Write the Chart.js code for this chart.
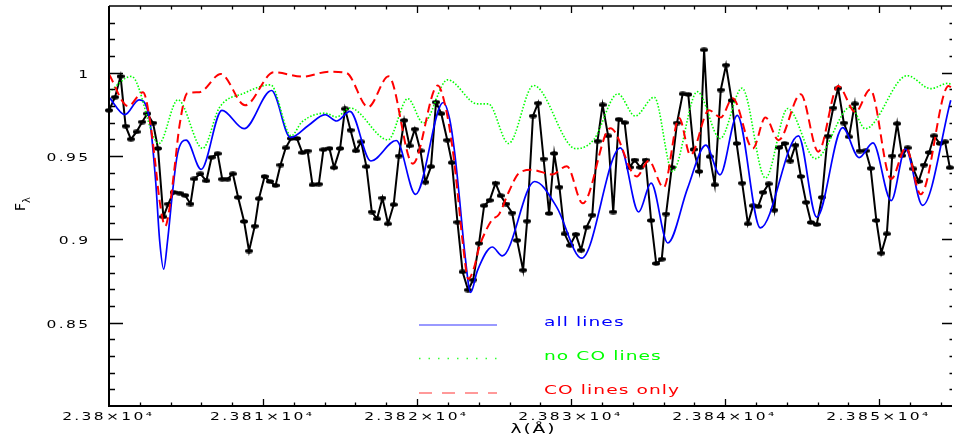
<!DOCTYPE html>
<html lang="en">
  <head>
    <meta charset="UTF-8" />
    <title>Spectrum around 2.38 micron</title>
    <script src="https://cdn.jsdelivr.net/npm/chart.js"></script>
    <style>
      body { margin: 0; background: #fff; }
      canvas { display: block; }
    </style>
  </head>
  <body>
    <canvas id="spectrumChart" width="958" height="439"></canvas>

    <script>
      // observed spectrum (black, with markers)
      const obsWave = [
        23800.00, 23800.39, 23800.75, 23801.08, 23801.42, 23801.79, 23802.15, 23802.49, 23802.86, 23803.18,
        23803.53, 23803.85, 23804.19, 23804.58, 23804.94, 23805.29, 23805.54, 23805.93, 23806.32, 23806.66,
        23807.05, 23807.35, 23807.69, 23808.04, 23808.38, 23808.77, 23809.09, 23809.46, 23809.73, 23810.10,
        23810.44, 23810.81, 23811.13, 23811.47, 23811.82, 23812.20, 23812.55, 23812.89, 23813.21, 23813.62,
        23813.92, 23814.31, 23814.61, 23815.00, 23815.32, 23815.68, 23816.03, 23816.37, 23816.71, 23817.06,
        23817.40, 23817.75, 23818.11, 23818.48, 23818.82, 23819.16, 23819.51, 23819.85, 23820.22, 23820.54,
        23820.90, 23821.23, 23821.57, 23821.96, 23822.26, 23822.62, 23822.95, 23823.31, 23823.64, 23824.02,
        23824.35, 23824.71, 23825.09, 23825.42, 23825.78, 23826.17, 23826.49, 23826.88, 23827.14, 23827.52,
        23827.85, 23828.21, 23828.57, 23828.90, 23829.24, 23829.57, 23829.93, 23830.30, 23830.64, 23831.00,
        23831.37, 23831.71, 23832.04, 23832.40, 23832.73, 23833.09, 23833.47, 23833.80, 23834.12, 23834.49,
        23834.83, 23835.19, 23835.52, 23835.88, 23836.16, 23836.53, 23836.87, 23837.24, 23837.60, 23837.95,
        23838.31, 23838.63, 23839.00, 23839.32, 23839.71, 23840.05, 23840.42, 23840.74, 23841.10, 23841.47,
        23841.81, 23842.14, 23842.46, 23842.82, 23843.19, 23843.51, 23843.85, 23844.22, 23844.56, 23844.91,
        23845.25, 23845.57, 23845.94, 23846.28, 23846.65, 23847.01, 23847.33, 23847.70, 23848.04, 23848.41,
        23848.73, 23849.12, 23849.44, 23849.81, 23850.13, 23850.49, 23850.84, 23851.16, 23851.48, 23851.84,
        23852.21, 23852.55, 23852.90, 23853.24, 23853.56, 23853.93, 23854.27, 23854.58
      ];
      const obsFlux = [
        0.9774, 0.9853, 0.9978, 0.9679, 0.9601, 0.9645, 0.9704, 0.9754, 0.9698, 0.9545,
        0.9135, 0.9212, 0.9282, 0.9277, 0.9264, 0.9212, 0.9363, 0.9393, 0.9351, 0.9492,
        0.9514, 0.9361, 0.9361, 0.9393, 0.9252, 0.9107, 0.8930, 0.9079, 0.9244, 0.9377,
        0.9347, 0.9323, 0.9446, 0.9549, 0.9605, 0.9605, 0.9520, 0.9530, 0.9327, 0.9331,
        0.9538, 0.9545, 0.9430, 0.9545, 0.9783, 0.9655, 0.9531, 0.9585, 0.9436, 0.9164,
        0.9123, 0.9248, 0.9093, 0.9208, 0.9500, 0.9714, 0.9561, 0.9661, 0.9531, 0.9343,
        0.9436, 0.9823, 0.9754, 0.9595, 0.9460, 0.9103, 0.8805, 0.8696, 0.8756, 0.8976,
        0.9202, 0.9234, 0.9337, 0.9262, 0.9212, 0.9158, 0.8994, 0.8815, 0.9109, 0.9740,
        0.9817, 0.9482, 0.9155, 0.9515, 0.9313, 0.9033, 0.8964, 0.9030, 0.8935, 0.9073,
        0.9145, 0.9589, 0.9807, 0.9621, 0.9164, 0.9720, 0.9700, 0.9432, 0.9476, 0.9432,
        0.9476, 0.9113, 0.8855, 0.8881, 0.9152, 0.9432, 0.9698, 0.9873, 0.9869, 0.9539,
        0.9407, 1.0137, 0.9496, 0.9327, 0.9896, 1.0045, 0.9833, 0.9575, 0.9337, 0.9093,
        0.9202, 0.9198, 0.9282, 0.9333, 0.9175, 0.9551, 0.9575, 0.9470, 0.9565, 0.9377,
        0.9222, 0.9101, 0.9089, 0.9252, 0.9619, 0.9788, 0.9907, 0.9698, 0.9615, 0.9813,
        0.9530, 0.9531, 0.9426, 0.9113, 0.8917, 0.9033, 0.9500, 0.9694, 0.9502, 0.9549,
        0.9423, 0.9347, 0.9446, 0.9521, 0.9621, 0.9575, 0.9585, 0.9430
      ];

      // model: all lines (blue)
      const allWave = [
        23800.00, 23801.03, 23801.95, 23802.64, 23803.03, 23803.29, 23803.55, 23803.80, 23804.13, 23804.45,
        23805.01, 23805.98, 23807.33, 23808.77, 23810.55, 23811.78, 23812.96, 23814.03, 23814.78, 23815.64,
        23817.00, 23818.65, 23819.90, 23821.69, 23822.11, 23822.43, 23822.75, 23823.08, 23823.48, 23823.91,
        23824.88, 23825.53, 23827.63, 23829.07, 23830.68, 23833.20, 23834.38, 23835.19, 23836.27, 23837.56,
        23838.74, 23839.66, 23840.78, 23842.28, 23844.75, 23845.94, 23847.62, 23848.69, 23849.59, 23850.77,
        23851.70, 23852.81, 23854.64
      ];
      const allFlux = [
        0.9853, 0.9748, 0.9837, 0.9716, 0.9347, 0.8990, 0.8821, 0.8990, 0.9288, 0.9514,
        0.9595, 0.9420, 0.9774, 0.9664, 0.9893, 0.9611, 0.9685, 0.9748, 0.9710, 0.9768,
        0.9470, 0.9593, 0.9270, 0.9821, 0.9722, 0.9526, 0.9246, 0.8930, 0.8682, 0.8811,
        0.8954, 0.8901, 0.9347, 0.9192, 0.8887, 0.9549, 0.9164, 0.9337, 0.8978, 0.9307,
        0.9565, 0.9387, 0.9744, 0.9069, 0.9621, 0.9133, 0.9670, 0.9490, 0.9579, 0.9232,
        0.9542, 0.9204, 0.9835
      ];

      // model: no CO lines (green)
      const noCOWave = [
        23800.00, 23801.46, 23803.24, 23804.47, 23806.08, 23807.15, 23808.77, 23810.49, 23811.83, 23812.52,
        23814.03, 23814.76, 23815.64, 23818.11, 23819.40, 23820.40, 23821.98, 23823.91, 23824.62, 23825.94,
        23827.56, 23830.30, 23831.46, 23833.03, 23834.16, 23835.39, 23836.58, 23838.19, 23839.67, 23841.09,
        23842.61, 23844.06, 23845.86, 23848.15, 23849.09, 23851.82, 23853.34, 23854.47, 23854.72
      ];
      const noCOFlux = [
        0.9883, 0.9978, 0.9575, 0.9837, 0.9545, 0.9788, 0.9877, 0.9927, 0.9621, 0.9704,
        0.9757, 0.9734, 0.9788, 0.9597, 0.9844, 0.9698, 0.9957, 0.9813, 0.9813, 0.9575,
        0.9923, 0.9544, 0.9597, 0.9873, 0.9740, 0.9853, 0.9407, 0.9886, 0.9605, 0.9907,
        0.9368, 0.9785, 0.9484, 0.9794, 0.9664, 0.9982, 0.9904, 0.9936, 0.9924
      ];

      // model: CO lines only (red)
      const coWave = [
        23800.00, 23801.24, 23802.21, 23802.64, 23802.97, 23803.29, 23803.65, 23803.93, 23804.25, 23804.58,
        23805.09, 23805.87, 23807.26, 23808.83, 23810.70, 23812.63, 23814.25, 23815.41, 23816.82, 23818.15,
        23819.72, 23821.34, 23821.87, 23822.30, 23822.62, 23822.95, 23823.33, 23823.70, 23824.02, 23824.45,
        23824.88, 23825.31, 23825.96, 23826.60, 23827.46, 23828.75, 23829.72, 23830.75, 23832.55, 23834.26,
        23835.03, 23836.00, 23837.01, 23837.74, 23838.95, 23839.71, 23840.48, 23841.79, 23842.61, 23843.46,
        23844.90, 23846.04, 23847.33, 23848.45, 23849.41, 23850.77, 23851.73, 23852.69, 23854.50, 23854.72
      ];
      const coFlux = [
        0.9990, 0.9799, 0.9883, 0.9724, 0.9486, 0.9228, 0.9079, 0.9188, 0.9426, 0.9685,
        0.9877, 0.9883, 0.9992, 0.9804, 1.0002, 0.9976, 1.0006, 0.9998, 0.9794, 0.9978,
        0.9454, 0.9923, 0.9783, 0.9545, 0.9287, 0.8990, 0.8762, 0.8831, 0.8950, 0.9049,
        0.9119, 0.9149, 0.9287, 0.9396, 0.9417, 0.9389, 0.9439, 0.9216, 0.9667, 0.9377,
        0.9472, 0.9311, 0.9728, 0.9506, 0.9774, 0.9731, 0.9847, 0.9545, 0.9731, 0.9595,
        0.9871, 0.9526, 0.9920, 0.9764, 0.9899, 0.9362, 0.9549, 0.9270, 0.9920, 0.9907
      ];

      const xTickValues = [23800, 23810, 23820, 23830, 23840, 23850];
      const xTickLabels = ["2.38×10⁴", "2.381×10⁴", "2.382×10⁴", "2.383×10⁴", "2.384×10⁴", "2.385×10⁴"];
      const yTickValues = [0.85, 0.9, 0.95, 1];
      const yTickLabels = ["0.85", "0.9", "0.95", "1"];

      const toPoints = (xs, ys) => xs.map((x, i) => ({ x: x, y: ys[i] }));

      // little flat ellipse used as the marker of the observed points
      const marker = document.createElement("canvas");
      marker.width = 8;
      marker.height = 5;
      const mctx = marker.getContext("2d");
      mctx.fillStyle = "#000";
      mctx.beginPath();
      mctx.ellipse(4, 2.5, 4, 2.2, 0, 0, 2 * Math.PI);
      mctx.fill();

      const FONT = "DejaVu Sans";
      const STRETCH = 1.55; // the original font is drawn wide

      // text drawn wider than the font, like the old plotting package did
      function wideText(ctx, text, x, y, align, size, spacing) {
        ctx.save();
        ctx.font = size + "px " + FONT;
        ctx.letterSpacing = spacing + "px";
        ctx.textBaseline = "alphabetic";
        ctx.textAlign = "left";
        const w = (ctx.measureText(text).width - spacing) * STRETCH;
        let x0 = x;
        if (align === "center") x0 = x - w / 2;
        if (align === "right") x0 = x - w;
        ctx.translate(x0, y);
        ctx.scale(STRETCH, 1);
        ctx.fillText(text, 0, 0);
        ctx.restore();
      }

      // frame, ticks, tick labels, titles and the in-plot legend
      const framePlugin = {
        id: "frame",
        afterDraw(chart) {
          const { ctx, chartArea: a, scales } = chart;
          const xs = scales.x;
          const ys = scales.y;
          ctx.save();
          ctx.strokeStyle = "#000";
          ctx.lineCap = "butt";

          ctx.lineWidth = 2;
          ctx.beginPath();
          ctx.moveTo(a.left, a.top);
          ctx.lineTo(a.left, a.bottom);
          ctx.lineTo(a.right, a.bottom);
          ctx.stroke();
          ctx.lineWidth = 1.5;
          ctx.beginPath();
          ctx.moveTo(a.left, a.top);
          ctx.lineTo(a.right, a.top);
          ctx.stroke();

          ctx.lineWidth = 1.3;
          ctx.beginPath();
          for (let k = 1; xs.min + 2 * k < xs.max; k++) {
            const px = Math.round(xs.getPixelForValue(xs.min + 2 * k)) + 0.5;
            const len = k % 5 === 0 ? 7 : 3.5;
            ctx.moveTo(px, a.bottom);
            ctx.lineTo(px, a.bottom - len);
            ctx.moveTo(px, a.top);
            ctx.lineTo(px, a.top + len);
          }
          for (let k = 1; k < 24; k++) {
            const py = Math.round(ys.getPixelForValue((80 + k) / 100)) + 0.5;
            const major = k % 5 === 0;
            ctx.moveTo(a.left, py);
            ctx.lineTo(a.left + (major ? 14 : 6), py);
            ctx.moveTo(a.right, py);
            ctx.lineTo(a.right - (major ? 10 : 2.5), py);
          }
          ctx.stroke();
          ctx.restore();

          ctx.save();
          ctx.fillStyle = "#000";
          xs.ticks.forEach((t, i) => {
            wideText(ctx, xTickLabels[i], xs.getPixelForValue(t.value) - 2, a.bottom + 14, "center", 10, 1.5);
          });
          ys.ticks.forEach((t, i) => {
            wideText(ctx, yTickLabels[i], a.left - 21, ys.getPixelForValue(t.value) + 5, "right", 10, 1.5);
          });
          wideText(ctx, "λ(Å)", (a.left + a.right) / 2 + 2, a.bottom + 27, "center", 12, 1.2);

          // y title: F with subscript lambda, reading upwards
          ctx.translate(25, 211);
          ctx.rotate(-Math.PI / 2);
          ctx.textAlign = "left";
          ctx.textBaseline = "alphabetic";
          ctx.font = "14px " + FONT;
          ctx.fillText("F", 0, 0);
          const fw = ctx.measureText("F").width;
          ctx.font = "10px " + FONT;
          ctx.fillText("λ", fw, 5);
          ctx.restore();

          // legend inside the plot
          ctx.save();
          const rows = [
            { ds: 1, y: a.top + 319, width: 1.2, dash: [] },
            { ds: 2, y: a.top + 352.5, width: 1.5, dash: [1.5, 8] },
            { ds: 3, y: a.top + 387, width: 1.2, dash: [13, 10] }
          ];
          rows.forEach((r) => {
            const d = chart.data.datasets[r.ds];
            ctx.strokeStyle = d.borderColor;
            ctx.globalAlpha = 0.8;
            ctx.lineWidth = r.width;
            ctx.setLineDash(r.dash);
            ctx.beginPath();
            ctx.moveTo(a.left + 310, r.y);
            ctx.lineTo(a.left + 388, r.y);
            ctx.stroke();
            ctx.globalAlpha = 1;
            ctx.fillStyle = d.borderColor;
            wideText(ctx, d.label, a.left + 435, r.y + 1, "left", 12, 0.7);
          });
          ctx.restore();
        }
      };

      const noPadding = (s) => {
        s.paddingTop = 0;
        s.paddingBottom = 0;
        s.paddingLeft = 0;
        s.paddingRight = 0;
      };

      new Chart(document.getElementById("spectrumChart").getContext("2d"), {
        type: "line",
        data: {
          datasets: [
            {
              label: "observed",
              data: toPoints(obsWave, obsFlux),
              borderColor: "#000000",
              borderWidth: 2,
              pointStyle: marker,
              pointRadius: 3,
              tension: 0,
              clip: 6,
              order: 4
            },
            {
              label: "all lines",
              data: toPoints(allWave, allFlux),
              borderColor: "#0000ff",
              borderWidth: 1.7,
              pointRadius: 0,
              cubicInterpolationMode: "monotone",
              order: 3
            },
            {
              label: "no CO lines",
              data: toPoints(noCOWave, noCOFlux),
              borderColor: "#00ff00",
              borderWidth: 1.6,
              borderDash: [1.5, 1.8],
              pointRadius: 0,
              cubicInterpolationMode: "monotone",
              order: 2
            },
            {
              label: "CO lines only",
              data: toPoints(coWave, coFlux),
              borderColor: "#ff0000",
              borderWidth: 2,
              borderDash: [9, 5],
              pointRadius: 0,
              cubicInterpolationMode: "monotone",
              order: 1
            }
          ]
        },
        options: {
          responsive: false,
          animation: false,
          layout: { padding: { top: 3, left: 0, right: 0, bottom: 0 } },
          plugins: {
            legend: { display: false },
            tooltip: { enabled: false }
          },
          scales: {
            x: {
              type: "linear",
              min: 23800,
              max: 23854.72,
              grid: { display: false, drawTicks: false },
              border: { display: false },
              afterBuildTicks: (s) => { s.ticks = xTickValues.map((v) => ({ value: v })); },
              afterFit: (s) => { s.height = 33; noPadding(s); },
              ticks: { display: false, includeBounds: false }
            },
            y: {
              min: 0.8,
              max: 1.04,
              grid: { display: false, drawTicks: false },
              border: { display: false },
              afterBuildTicks: (s) => { s.ticks = yTickValues.map((v) => ({ value: v })); },
              afterFit: (s) => { s.width = 109; noPadding(s); },
              ticks: { display: false, includeBounds: false }
            }
          }
        },
        plugins: [framePlugin]
      });
    </script>
  </body>
</html>
